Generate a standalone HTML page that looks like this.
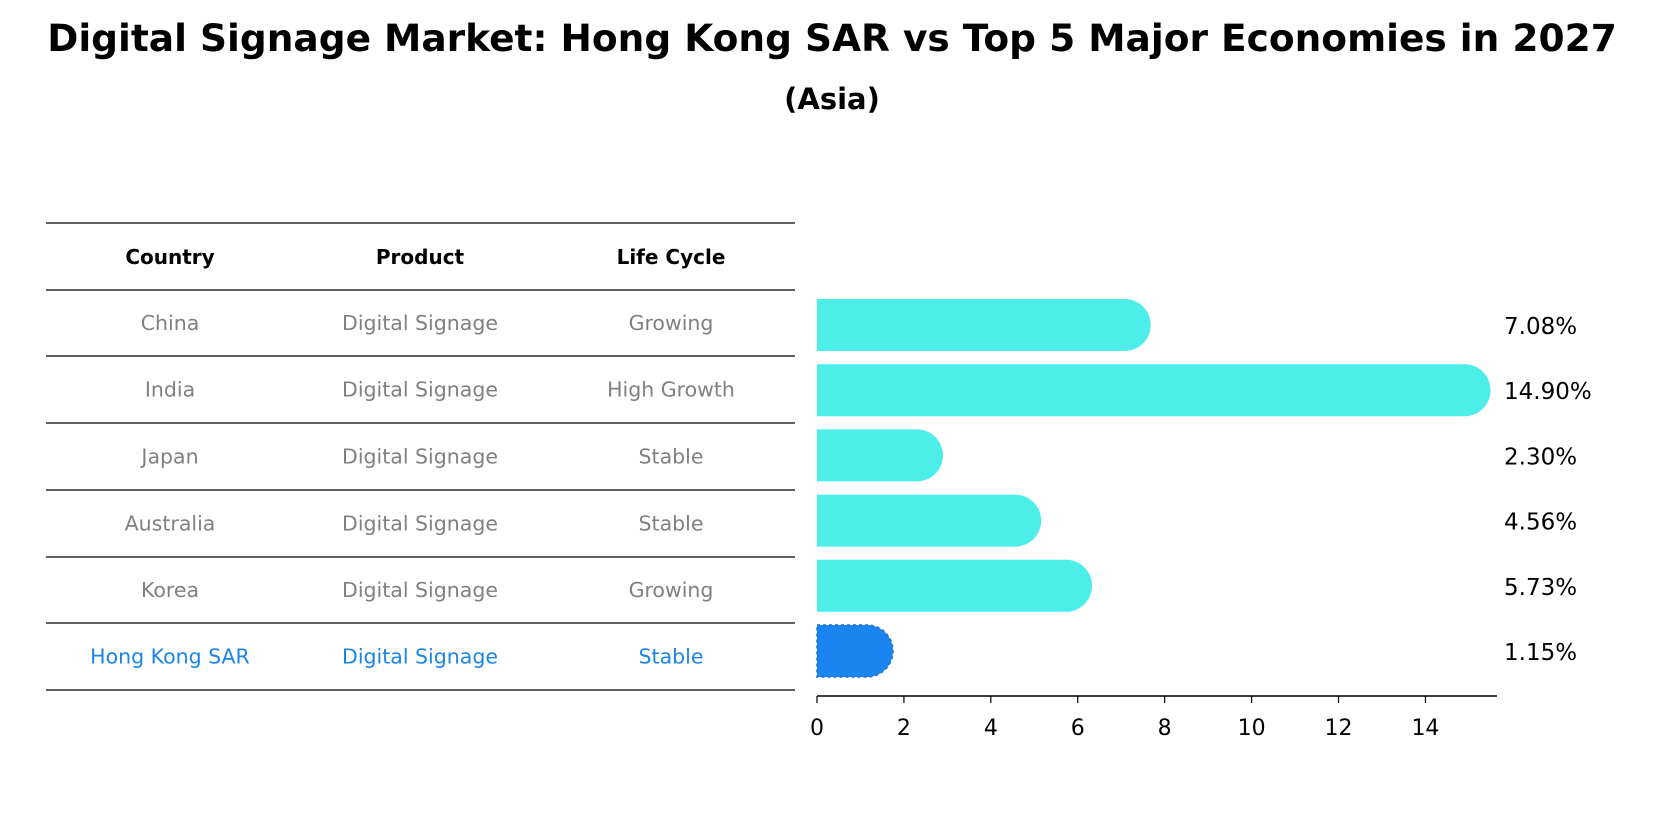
<!DOCTYPE html>
<html><head><meta charset="utf-8"><style>
body{margin:0;background:#fff;font-family:"Liberation Sans","DejaVu Sans",sans-serif}
</style></head><body>
<svg width="1665" height="823" xmlns="http://www.w3.org/2000/svg" font-family="DejaVu Sans, Liberation Sans, sans-serif">
<text x="832" y="51" text-anchor="middle" font-size="37.5" font-weight="bold">Digital Signage Market: Hong Kong SAR vs Top 5 Major Economies in 2027</text>
<text x="832" y="109" text-anchor="middle" font-size="29" font-weight="bold">(Asia)</text>
<g id="table"></g>
<g id="bars"></g>
<g id="axis"></g>
</svg>
<script>
const countries=["China","India","Japan","Australia","Korea","Hong Kong SAR"];
const products=["Digital Signage","Digital Signage","Digital Signage","Digital Signage","Digital Signage","Digital Signage"];
const lifeCycles=["Growing","High Growth","Stable","Stable","Growing","Stable"];
const values=[7.08,14.90,2.30,4.56,5.73,1.15];
const ticks=[0,2,4,6,8,10,12,14];
const NS="http://www.w3.org/2000/svg";
const x0=817,scale=43.46,barH=52,r=26;
const xs=v=>x0+v*scale;
const yc=i=>325+i*65.2;
function mk(tag,attrs,parent){const e=document.createElementNS(NS,tag);for(const k in attrs)e.setAttribute(k,attrs[k]);parent.appendChild(e);return e;}
const table=document.getElementById('table'),bars=document.getElementById('bars'),axis=document.getElementById('axis');
const lineYs=[223,290,356,423,490,557,623,690];
lineYs.forEach((y,i)=>{const l=mk('line',{x1:46,x2:795,y1:y,y2:y,stroke:'#000','stroke-width':1.2},table);

});
const colX=[170,420,671];
["Country","Product","Life Cycle"].forEach((h,j)=>{const t=mk('text',{x:colX[j],y:264,'text-anchor':'middle','font-size':20,'font-weight':'bold'},table);t.textContent=h;

});
countries.forEach((c,i)=>{const y=(lineYs[i+1]+lineYs[i+2])/2+7;const col=i===countries.length-1?'#1a85e8':'#808080';
[c,products[i],lifeCycles[i]].forEach((v,j)=>{const t=mk('text',{x:colX[j],y:y,'text-anchor':'middle','font-size':20.5,fill:col},table);t.textContent=v;

});});
values.forEach((v,i)=>{const hk=i===values.length-1;const yt=yc(i)-barH/2;const xe=xs(v);
const d=`M${x0},${yt} H${xe} A${r},${r} 0 0 1 ${xe},${yt+barH} H${x0} Z`;
const p=mk('path',{d:d,fill:hk?'#1a85f0':'#4deeea'},bars);
if(hk){p.setAttribute('stroke','#1a6fd0');p.setAttribute('stroke-dasharray','3,3');p.setAttribute('stroke-width','1.5');}


const t=mk('text',{x:1504,y:yc(i)+9,'font-size':23},bars);t.textContent=v.toFixed(2)+'%';

});
const al=mk('line',{x1:x0,x2:1497,y1:696,y2:696,stroke:'#000','stroke-width':1.5},axis);


ticks.forEach(tv=>{const x=xs(tv);mk('line',{x1:x,x2:x,y1:696,y2:703,stroke:'#000','stroke-width':1.2},axis);
const t=mk('text',{x:x,y:735,'text-anchor':'middle','font-size':22},axis);t.textContent=tv;

});
</script>
</body></html>
